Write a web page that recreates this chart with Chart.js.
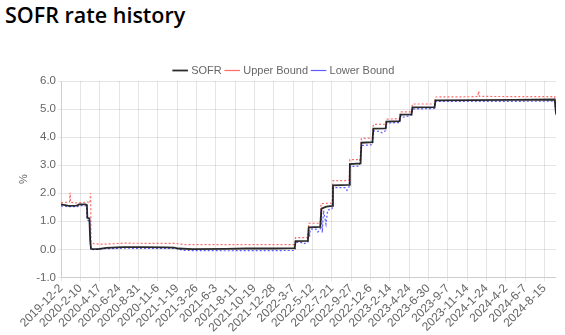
<!DOCTYPE html>
<html>
<head>
<meta charset="utf-8">
<script src="https://cdn.jsdelivr.net/npm/chart.js@4/dist/chart.umd.min.js"></script>
<style>
  body { margin: 0; background: #fff; }
  h2 {
    position: absolute; left: 5px; top: 0; margin: 0;
    font-family: 'Open Sans', sans-serif; font-size: 21.5px; font-weight: 600;
    line-height: 30px; color: #000;
  }
  #wrap { position: absolute; left: 13px; top: 60px; width: 543px; height: 275px; }
</style>
</head>
<body>
<h2>SOFR rate history</h2>
<div id="wrap"><canvas id="sofrChart"></canvas></div>
<script>
// x = business-day index counted from 2019-12-2, y = rate in %
const tickLabels = [
  '2019-12-2', '2020-2-10', '2020-4-17', '2020-6-24', '2020-8-31', '2020-11-6',
  '2021-1-19', '2021-3-26', '2021-6-3', '2021-8-11', '2021-10-19', '2021-12-28',
  '2022-3-7', '2022-5-12', '2022-7-21', '2022-9-27', '2022-12-6', '2023-2-14',
  '2023-4-24', '2023-6-30', '2023-9-7', '2023-11-14', '2024-1-24', '2024-4-2',
  '2024-6-7', '2024-8-15',
];
const labelStep = 47;
const lastDay = 1203;

const sofr = [
  [0, 1.60], [10, 1.58], [18, 1.55], [38, 1.56], [44, 1.60], [60, 1.60], [63, 1.58],
  [64, 1.12], [69, 1.10], [71, 0.30], [73, 0.02], [90, 0.01], [110, 0.05], [150, 0.08],
  [200, 0.08], [255, 0.07], [275, 0.06], [285, 0.03], [320, 0.01], [400, 0.02],
  [450, 0.03], [520, 0.03], [568, 0.04], [570, 0.29], [600, 0.30], [602, 0.78],
  [630, 0.80], [633, 1.45], [645, 1.52], [659, 1.55], [661, 2.28], [700, 2.30],
  [702, 3.04], [728, 3.06], [730, 3.80], [757, 3.82], [759, 4.30], [789, 4.31],
  [791, 4.55], [823, 4.57], [825, 4.80], [852, 4.81], [854, 5.06], [908, 5.07],
  [910, 5.31], [1000, 5.32], [1100, 5.33], [1200, 5.34], [lastDay, 4.83],
];

const upperBound = [
  [0, 1.66], [15, 1.68], [21, 1.70], [22, 2.02], [23, 1.68], [40, 1.65], [60, 1.68],
  [63, 1.70], [66, 1.68], [70, 1.65], [72, 2.00], [73, 0.25], [80, 0.20], [100, 0.18],
  [150, 0.22], [280, 0.21], [300, 0.17], [568, 0.17], [569, 0.20], [570, 0.42],
  [600, 0.42], [602, 0.93], [630, 0.93], [632, 1.63], [659, 1.65], [661, 2.45],
  [700, 2.45], [702, 3.20], [728, 3.20], [730, 3.95], [757, 3.97], [759, 4.45],
  [789, 4.46], [791, 4.64], [823, 4.66], [825, 4.90], [852, 4.90], [854, 5.18],
  [908, 5.18], [910, 5.43], [1000, 5.44], [1013, 5.45], [1015, 5.64], [1017, 5.45],
  [1200, 5.44], [lastDay, 4.90],
];

const lowerBound = [
  [0, 1.55], [20, 1.52], [40, 1.52], [44, 1.56], [62, 1.55], [64, 1.05], [70, 1.00],
  [72, 0.01], [80, -0.01], [100, 0.02], [150, 0.04], [280, 0.03], [300, -0.04],
  [400, -0.05], [568, -0.04], [569, -0.02], [570, 0.25], [585, 0.24], [590, 0.20],
  [600, 0.25], [602, 0.70], [604, 0.45], [606, 0.72], [620, 0.72], [624, 0.62],
  [630, 0.70], [632, 1.40], [635, 0.60], [638, 1.38], [644, 0.90], [648, 1.40],
  [659, 1.45], [661, 2.20], [690, 2.20], [695, 2.10], [700, 2.22], [702, 2.95],
  [725, 2.97], [730, 3.70], [757, 3.73], [759, 4.22], [775, 4.20], [780, 4.15],
  [789, 4.23], [791, 4.50], [823, 4.52], [825, 4.75], [828, 4.70], [852, 4.78],
  [854, 5.00], [908, 5.02], [910, 5.27], [1200, 5.28], [lastDay, 4.78],
];

const toPoints = (rows) => rows.map(([x, y]) => ({ x, y }));

Chart.defaults.font.family = "'Liberation Sans', Arial, sans-serif";
Chart.defaults.font.size = 11;
Chart.defaults.color = '#666';

new Chart(document.getElementById('sofrChart'), {
  type: 'line',
  data: {
    datasets: [
      {
        label: 'SOFR',
        data: toPoints(sofr),
        borderColor: 'rgba(20, 20, 20, 0.9)',
        borderWidth: 1.8,
      },
      {
        label: 'Upper Bound',
        data: toPoints(upperBound),
        borderColor: 'rgba(255, 70, 70, 0.8)',
        borderWidth: 1.2,
        borderDash: [2, 2],
      },
      {
        label: 'Lower Bound',
        data: toPoints(lowerBound),
        borderColor: 'rgba(50, 50, 255, 0.8)',
        borderWidth: 1.2,
        borderDash: [2, 2],
      },
    ],
  },
  options: {
    responsive: true,
    maintainAspectRatio: false,
    animation: false,
    elements: { point: { radius: 0 }, line: { tension: 0 } },
    plugins: {
      legend: {
        maxHeight: 21,
        labels: { usePointStyle: true, pointStyle: 'line', padding: 5 },
      },
      tooltip: { enabled: false },
    },
    scales: {
      x: {
        type: 'linear',
        min: 0,
        max: lastDay,
        grid: { tickLength: 4 },
        afterBuildTicks: (scale) => {
          scale.ticks = tickLabels.map((_, i) => ({ value: i * labelStep }));
        },
        ticks: {
          autoSkip: false,
          minRotation: 45,
          maxRotation: 45,
          padding: 0,
          font: { size: 12 },
          callback: (value) => tickLabels[Math.round(value / labelStep)],
        },
      },
      y: {
        min: -1,
        max: 6,
        grid: { tickLength: 3 },
        ticks: {
          stepSize: 1,
          padding: 2,
          font: { size: 11.5 },
          callback: (value) => value.toFixed(1),
        },
        title: { display: true, text: '%' },
      },
    },
  },
});
</script>
</body>
</html>
